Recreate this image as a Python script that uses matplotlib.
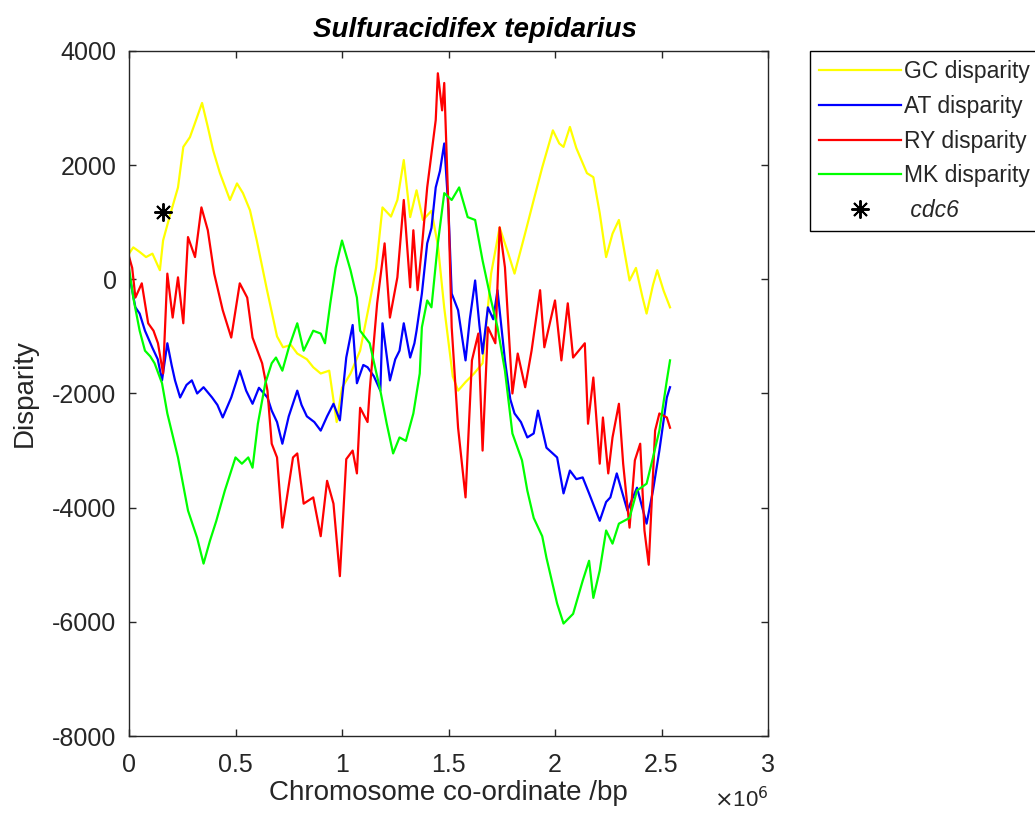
import matplotlib
matplotlib.use("Agg")
import matplotlib.pyplot as plt
import numpy as np

plt.rcParams['font.family'] = ['Liberation Sans', 'DejaVu Sans']

# ---- data (x in Mbp, values in disparity units) ----
gc_x = [0, 0.02, 0.05, 0.08, 0.11, 0.145, 0.16, 0.19, 0.23, 0.255, 0.286, 0.31, 0.343, 0.37, 0.395,
        0.427, 0.474, 0.507, 0.535, 0.568, 0.60, 0.648, 0.695, 0.723, 0.76, 0.79, 0.835, 0.865, 0.9,
        0.94, 0.975, 1.0, 1.04, 1.085, 1.13, 1.16, 1.19, 1.23, 1.26, 1.29, 1.32, 1.35, 1.38, 1.42,
        1.45, 1.48, 1.52, 1.545, 1.58, 1.62, 1.66, 1.70, 1.74, 1.78, 1.81, 1.86, 1.90, 1.94, 1.99,
        2.02, 2.04, 2.07, 2.10, 2.15, 2.18, 2.21, 2.24, 2.27, 2.30, 2.33, 2.35, 2.38, 2.41, 2.43,
        2.46, 2.48, 2.51, 2.54]
gc_y = [450, 560, 480, 390, 450, 160, 680, 1090, 1610, 2320, 2490, 2740, 3090, 2670, 2260,
        1860, 1390, 1680, 1510, 1210, 680, -190, -1000, -1190, -1150, -1300, -1400, -1540, -1650,
        -1600, -2500, -1900, -1650, -1250, -400, 200, 1260, 1100, 1390, 2090, 1090, 1560, 1040, 1200,
        600, -500, -1700, -1950, -1800, -1650, -1470, 100, 910, 460, 100, 810, 1390, 1960, 2610,
        2380, 2320, 2670, 2300, 1860, 1790, 1160, 390, 800, 1040, 400, -20, 200, -300, -600,
        -100, 160, -200, -490]

at_x = [0, 0.03, 0.05, 0.075, 0.11, 0.135, 0.155, 0.18, 0.2, 0.216, 0.24, 0.27, 0.295, 0.32, 0.35,
        0.39, 0.415, 0.44, 0.48, 0.51, 0.52, 0.55, 0.58, 0.61, 0.65, 0.67, 0.695, 0.72, 0.75, 0.79,
        0.81, 0.835, 0.87, 0.9, 0.93, 0.96, 0.99, 1.02, 1.05, 1.07, 1.1, 1.12, 1.15, 1.18, 1.19,
        1.225, 1.25, 1.27, 1.29, 1.32, 1.34, 1.35, 1.375, 1.40, 1.42, 1.44, 1.46, 1.48, 1.50, 1.515,
        1.545, 1.58, 1.60, 1.625, 1.645, 1.66, 1.685, 1.71, 1.73, 1.765, 1.79, 1.81, 1.84, 1.87,
        1.90, 1.92, 1.96, 2.01, 2.04, 2.07, 2.10, 2.13, 2.16, 2.21, 2.24, 2.26, 2.29, 2.34, 2.385,
        2.43, 2.46, 2.49, 2.525, 2.54]
at_y = [100, -490, -600, -900, -1200, -1400, -1770, -1120, -1500, -1770, -2070, -1850, -1770, -2000, -1890,
        -2070, -2200, -2420, -2070, -1720, -1600, -1950, -2180, -1900, -2070, -2300, -2500, -2880, -2400, -1950,
        -2200, -2400, -2500, -2650, -2400, -2180, -2470, -1370, -800, -1820, -1500, -1540, -1700, -1950, -770,
        -1770, -1400, -1250, -770, -1370, -1120, -900, -250, 630, 900, 1610, 1900, 2380, 1210, -250,
        -540, -1420, -700, -20, -800, -1300, -490, -700, -190, -1420, -2100, -2350, -2500, -2770,
        -2700, -2300, -2950, -3120, -3750, -3350, -3500, -3470, -3750, -4230, -3900, -3820, -3400, -4050, -3650,
        -4280, -3700, -3000, -2070, -1890]

ry_x = [0, 0.015, 0.03, 0.06, 0.09, 0.115, 0.136, 0.16, 0.18, 0.205, 0.23, 0.255, 0.277, 0.31, 0.34,
        0.37, 0.40, 0.44, 0.48, 0.52, 0.555, 0.58, 0.625, 0.65, 0.67, 0.695, 0.72, 0.77, 0.79, 0.82,
        0.865, 0.9, 0.93, 0.96, 0.99, 1.02, 1.05, 1.07, 1.085, 1.12, 1.13, 1.165, 1.2, 1.225, 1.26,
        1.29, 1.32, 1.335, 1.355, 1.375, 1.40, 1.44, 1.45, 1.47, 1.48, 1.50, 1.515, 1.545, 1.58, 1.61,
        1.64, 1.66, 1.685, 1.72, 1.74, 1.765, 1.80, 1.825, 1.86, 1.89, 1.93, 1.95, 2.0, 2.03, 2.06,
        2.085, 2.14, 2.155, 2.18, 2.21, 2.225, 2.25, 2.27, 2.30, 2.32, 2.35, 2.375, 2.40, 2.42, 2.44,
        2.47, 2.49, 2.525, 2.54]
ry_y = [400, 200, -320, -70, -770, -900, -1120, -1650, 100, -670, 35, -770, 740, 390, 1260,
        860, 100, -540, -1020, -70, -320, -1020, -1470, -1950, -2880, -3120, -4350, -3120, -3050, -3930,
        -3820, -4500, -3530, -3930, -5200, -3150, -3000, -3400, -2250, -2500, -1950, -420, 630, -670, 35,
        1390, -140, 860, -190, 560, 1610, 2790, 3610, 2960, 3440, 1210, -840, -2600, -3820, -1420,
        -950, -3000, -840, -1120, 910, 210, -2000, -1300, -1890, -1250, -190, -1190, -370, -1420, -420,
        -1370, -1120, -2530, -1720, -3230, -2420, -3400, -2770, -2180, -3230, -4350, -3170, -2880, -4400, -5000,
        -2650, -2350, -2420, -2600]

mk_x = [0, 0.02, 0.05, 0.075, 0.10, 0.12, 0.155, 0.18, 0.23, 0.277, 0.32, 0.35, 0.38, 0.41, 0.45,
        0.50, 0.53, 0.56, 0.58, 0.605, 0.64, 0.67, 0.69, 0.72, 0.75, 0.79, 0.82, 0.865, 0.9, 0.92,
        0.945, 0.97, 1.0, 1.04, 1.07, 1.085, 1.13, 1.18, 1.21, 1.24, 1.27, 1.30, 1.335, 1.365, 1.375,
        1.40, 1.42, 1.45, 1.48, 1.515, 1.55, 1.59, 1.625, 1.66, 1.70, 1.73, 1.765, 1.80, 1.845, 1.87,
        1.90, 1.94, 1.96, 2.01, 2.04, 2.085, 2.13, 2.16, 2.18, 2.21, 2.24, 2.27, 2.30, 2.35, 2.385,
        2.43, 2.46, 2.49, 2.525, 2.54]
mk_y = [200, -320, -900, -1250, -1350, -1470, -1820, -2350, -3120, -4050, -4530, -4980, -4580, -4230, -3700,
        -3120, -3230, -3120, -3300, -2530, -1820, -1470, -1370, -1600, -1200, -770, -1250, -900, -950, -1120,
        -420, 200, 680, 160, -320, -900, -1120, -1950, -2530, -3050, -2770, -2830, -2350, -1650, -840,
        -370, -490, 630, 1510, 1390, 1610, 1090, 1040, 330, -370, -840, -1600, -2700, -3170, -3700,
        -4180, -4500, -4880, -5680, -6030, -5860, -5280, -4930, -5580, -5100, -4400, -4630, -4280, -4180, -3700,
        -3580, -3120, -2650, -1770, -1420]

cdc6_x = [0.16]
cdc6_y = [1180]

series = [
    ("GC disparity", gc_x, gc_y, (1.0, 1.0, 0.0)),
    ("AT disparity", at_x, at_y, (0.0, 0.0, 1.0)),
    ("RY disparity", ry_x, ry_y, (1.0, 0.0, 0.0)),
    ("MK disparity", mk_x, mk_y, (0.0, 1.0, 0.0)),
]

W, H = 1035, 822
fig = plt.figure(figsize=(W / 100, H / 100), dpi=100)
ax = fig.add_axes([129 / W, 1 - 736 / H, (768 - 129) / W, (736 - 51) / H])

for name, xs, ys, col in series:
    ax.plot(np.array(xs) * 1e6, ys, color=col, lw=1.6, label=name)
ax.plot(np.array(cdc6_x) * 1e6, cdc6_y, linestyle='none', marker=(8, 2, 0),
        markersize=13, markeredgewidth=1.4, color='black', label=' cdc6')

ax.set_xlim(0, 3e6)
ax.set_ylim(-8000, 4000)
ax.set_xticks(np.arange(0, 3.01e6, 0.5e6))
ax.set_xticklabels(['0', '0.5', '1', '1.5', '2', '2.5', '3'])
ax.set_yticks(np.arange(-8000, 4001, 2000))
ax.set_yticklabels([str(v) for v in range(-8000, 4001, 2000)])

tc = (0.15, 0.15, 0.15)
ax.tick_params(direction='in', length=5, width=1, top=True, right=True,
               labelsize=18, colors=tc, labelcolor=tc)
ax.tick_params(axis='x', pad=12)
ax.tick_params(axis='y', pad=9)
for s in ax.spines.values():
    s.set_color(tc)
    s.set_linewidth(1.0)

fig.text(475 / W, 1 - 30 / H, 'Sulfuracidifex tepidarius', ha='center', va='center',
         fontsize=20, fontweight='bold', fontstyle='italic', color='black')
fig.text(448 / W, 1 - 793 / H, 'Chromosome co-ordinate /bp', ha='center', va='center',
         fontsize=20, color=tc)
fig.text(25 / W, 1 - 393 / H, 'Disparity', ha='center', va='center', rotation=90,
         fontsize=20, color=tc)
fig.text(768 / W, 1 - 800 / H, r'$\times$10$^{6}$', ha='right', va='center',
         fontsize=16, color=tc)

leg = ax.legend(loc='upper left', bbox_to_anchor=(810 / W, 1 - 51 / H),
                bbox_transform=fig.transFigure, borderaxespad=0, fontsize=16.5,
                frameon=True, fancybox=False, framealpha=1, edgecolor='black',
                handlelength=3.6, handletextpad=0.12, labelspacing=0.52, borderpad=0.38)
leg.get_frame().set_linewidth(1.0)
for t in leg.get_texts():
    t.set_color(tc)
leg.get_texts()[4].set_fontstyle('italic')

fig.savefig('out.png', dpi=100)
